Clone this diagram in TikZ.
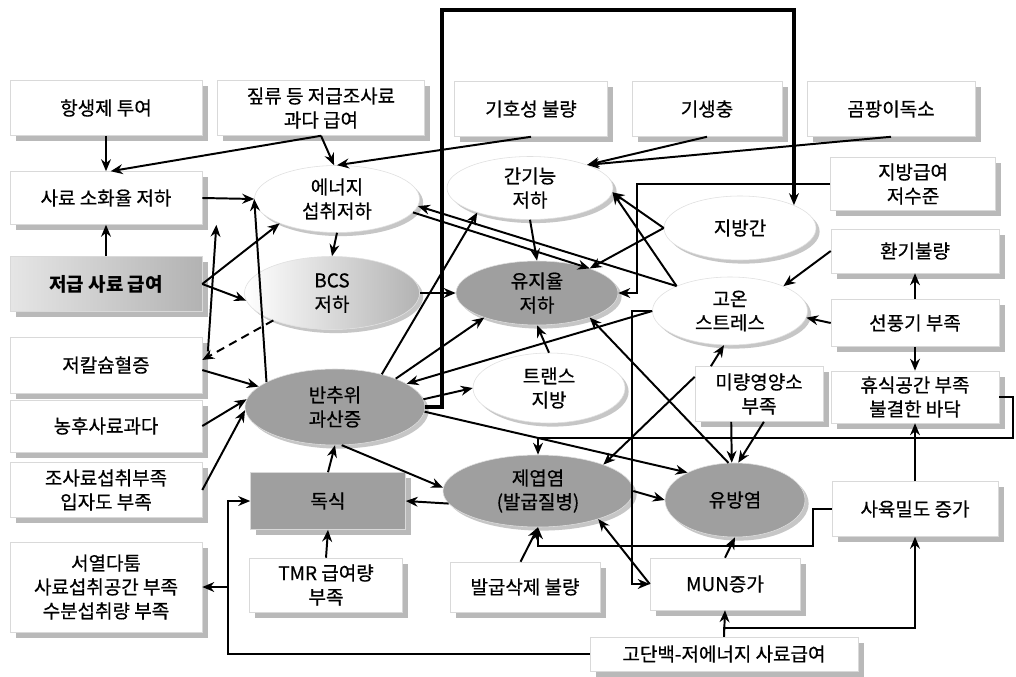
\documentclass[tikz,border=0pt]{standalone}
\usepackage{fontspec}
\setmainfont{Noto Sans CJK KR}[UprightFeatures={FakeBold=0.6}]
\usetikzlibrary{shapes.geometric,arrows.meta,shadows}

\tikzset{
	sz/.style args={#1/#2}{minimum width=#1*0.025cm,minimum height=#2*0.025cm},
	box/.style={rectangle,draw=gray!30,fill=white,align=center,inner sep=1pt,
		drop shadow={shadow xshift=0.14cm,shadow yshift=-0.14cm,fill=gray!55,opacity=1}},
	ell/.style={ellipse,draw=gray!25,fill=white,align=center,inner sep=0pt,
		drop shadow={shadow xshift=0.09cm,shadow yshift=-0.09cm,fill=gray!45,opacity=1}},
	dark/.style={fill=gray!75},
	arr/.style={-{Stealth[length=8.5pt,width=7pt]},line width=1.4pt},
}

\begin{document}
\begin{tikzpicture}[x=0.025cm,y=-0.025cm,font=\fontsize{13.5}{17}\selectfont]
\fill[white] (0,0) rectangle (1016,676);
\useasboundingbox (0,0) rectangle (1016,676);

% top row
\node[box,sz=192/55] (anti) at (106,108) {항생제 투여};
\node[box,sz=207/55] (straw) at (321,108) {짚류 등 저급조사료\\과다 급여};
\node[box,sz=153/55] (palat) at (531,109) {기호성 불량};
\node[box,sz=150/55] (para) at (707,109) {기생충};
\node[box,sz=168/55] (myco) at (891,109) {곰팡이독소};

% right column
\node[box,sz=165/53] (fatfeed) at (913,184) {지방급여\\저수준};
\node[box,sz=168/44] (vent) at (915,251) {환기불량};
\node[box,sz=168/47] (fan) at (915,323) {선풍기 부족};
\node[box,sz=168/52] (rest) at (915,397) {휴식공간 부족\\불결한 바닥};
\node[box,sz=166/55] (density) at (915,509) {사육밀도 증가};

% left column
\node[box,sz=192/53] (digest) at (106,198) {사료 소화율 저하};
\node[box,sz=192/55,left color=gray!20,right color=gray!60] (lowfeed) at (106,284) {\bfseries 저급 사료 급여};
\node[box,sz=192/56] (hypoca) at (106,365) {저칼슘혈증};
\node[box,sz=192/52] (conc) at (106,426) {농후사료과다};
\node[box,sz=192/55] (rough) at (106,490) {조사료섭취부족\\입자도 부족};
\node[box,sz=192/90] (rank) at (106,587) {서열다툼\\사료섭취공간 부족\\수분섭취량 부족};

% lower boxes
\node[box,sz=155/57,dark] (domin) at (328,501) {독식};
\node[box,sz=153/54] (tmr) at (326,585) {TMR 급여량\\부족};
\node[box,sz=150/50] (hoof) at (525,587) {발굽삭제 불량};
\node[box,sz=128/55] (micro) at (759,394) {미량영양소\\부족};
\node[box,sz=150/52] (mun) at (725,584) {MUN증가};
\node[box,sz=268/34] (hpro) at (724,654) {고단백-저에너지 사료급여};

% ellipses
\node[ell,sz=165/67] (energy) at (337,199) {에너지\\섭취저하};
\node[ell,sz=175/73,left color=white,right color=gray!60] (bcs) at (332,293) {BCS\\저하};
\node[ell,sz=180/76,dark] (rumen) at (335,407) {반추위\\과산증};
\node[ell,sz=166/63] (liver) at (530,188) {간기능\\저하};
\node[ell,sz=162/64,dark] (milkfat) at (537,293) {유지율\\저하};
\node[ell,sz=152/70] (trans) at (549,388) {트랜스\\지방};
\node[ell,sz=190/72,dark] (lamin) at (538,491) {제엽염\\(발굽질병)};
\node[ell,sz=152/64] (fatliver) at (740,228) {지방간};
\node[ell,sz=155/68] (heat) at (730,311) {고온\\스트레스};
\node[ell,sz=140/74,dark] (mastitis) at (735,500) {유방염};

% connectors, left part
\draw[arr] (anti.south) -- (digest.north);
\draw[arr] (straw.south) -- (digest.80);
\draw[arr] (straw.south) -- (energy.95);
\draw[arr] (palat.south) -- (energy.90);
\draw[arr] (para.south) -- (liver.22);
\draw[arr] (myco.south) -- (liver.22);
\draw[arr] (lowfeed.north) -- (digest.south);
\draw[arr] (digest.east) -- (energy.west);
\draw[arr] ([xshift=4pt]hypoca.8) -- ([xshift=10pt]digest.south east);
\draw[arr] (rumen.160) -- (energy.west);
\draw[arr] (lowfeed.east) -- (energy.203);
\draw[arr] (lowfeed.east) -- (bcs.185);
\draw[arr,dash pattern=on 6pt off 4pt] (bcs.205) -- (hypoca.3);
\draw[arr] (hypoca.-3) -- (rumen.165);
\draw[arr] (conc.east) -- (rumen.175);
\draw[arr] (rough.east) -- (rumen.182);
\draw[arr] (energy.south) -- (bcs.north);
\draw[arr] (bcs.east) -- (milkfat.west);

% rumen
\draw[arr] (rumen.25) -- (milkfat.205);
\draw[arr] (rumen.35) -- (liver.205);
\draw[arr] (heat.west) -- (rumen.18);
\draw[arr] (rumen.5) -- (trans.west);
\draw[arr,line width=2.6pt] (rumen.east) -- (442,407) -- (442,10) -| (fatliver.north east);
\draw[arr] (rumen.-3) -- (mastitis.150);
\draw[arr] (rumen.-80) -- (lamin.178);

% milk fat and liver
\draw[arr] (fatfeed.west) -- (637,184) |- (milkfat.east);
\draw[arr] (liver.south) -- (milkfat.north);
\draw[arr] (heat.155) -- (energy.-5);
\draw[arr] (heat.155) -- (liver.-3);
\draw[arr] (fatliver.west) -- (liver.-3);
\draw[arr] (fatliver.west) -- (milkfat.25);
\draw[arr] (energy.-10) -- (milkfat.25);
\draw[arr] (trans.north) -- (milkfat.south);
\draw[arr] (mastitis.100) -- (milkfat.-25);

% micro nutrients, housing
\draw[arr] (micro.-135) -- (mastitis.95);
\draw[arr] (micro.-80) -- (mastitis.85);
\draw[arr] (micro.165) -- (lamin.22);
\draw[arr] (micro.150) -- (heat.-100);
\draw[arr] (rest.east) -- (1013,397) -- (1013,438) -| (lamin.north);
\draw[arr] (density.north) -- (rest.south);
\draw[arr] (fan.north) -- (vent.south);
\draw[arr] (fan.south) -- (rest.north);
\draw[arr] (fan.west) -- (heat.-5);
\draw[arr] (vent.west) -- (heat.25);

% laminitis
\draw[arr] (lamin.188) -- (domin.east);
\draw[arr] (hoof.100) -- (lamin.south);
\draw[arr] (density.west) -- (813,509) -- (813,546) -| (lamin.south);
\draw[arr] (lamin.east) -- (mastitis.west);
\draw[arr] (mun.north) -- (mastitis.south);
\draw[arr] (mun.west) -- (lamin.-25);
\draw[arr] (heat.west) -- (632,311) |- (mun.west);

% bottom feed
\draw[arr] (hpro.north) -- (mun.south);
\draw[arr] (hpro.north) -- (724,628) -| (density.south);
\draw[arr] (hpro.west) -- (228,654) |- (domin.west);
\draw[arr] (hpro.west) -- (228,654) |- (rank.east);
\draw[arr] (tmr.north) -- (domin.south);
\draw[arr] (domin.north) -- (rumen.south);
\end{tikzpicture}
\end{document}
